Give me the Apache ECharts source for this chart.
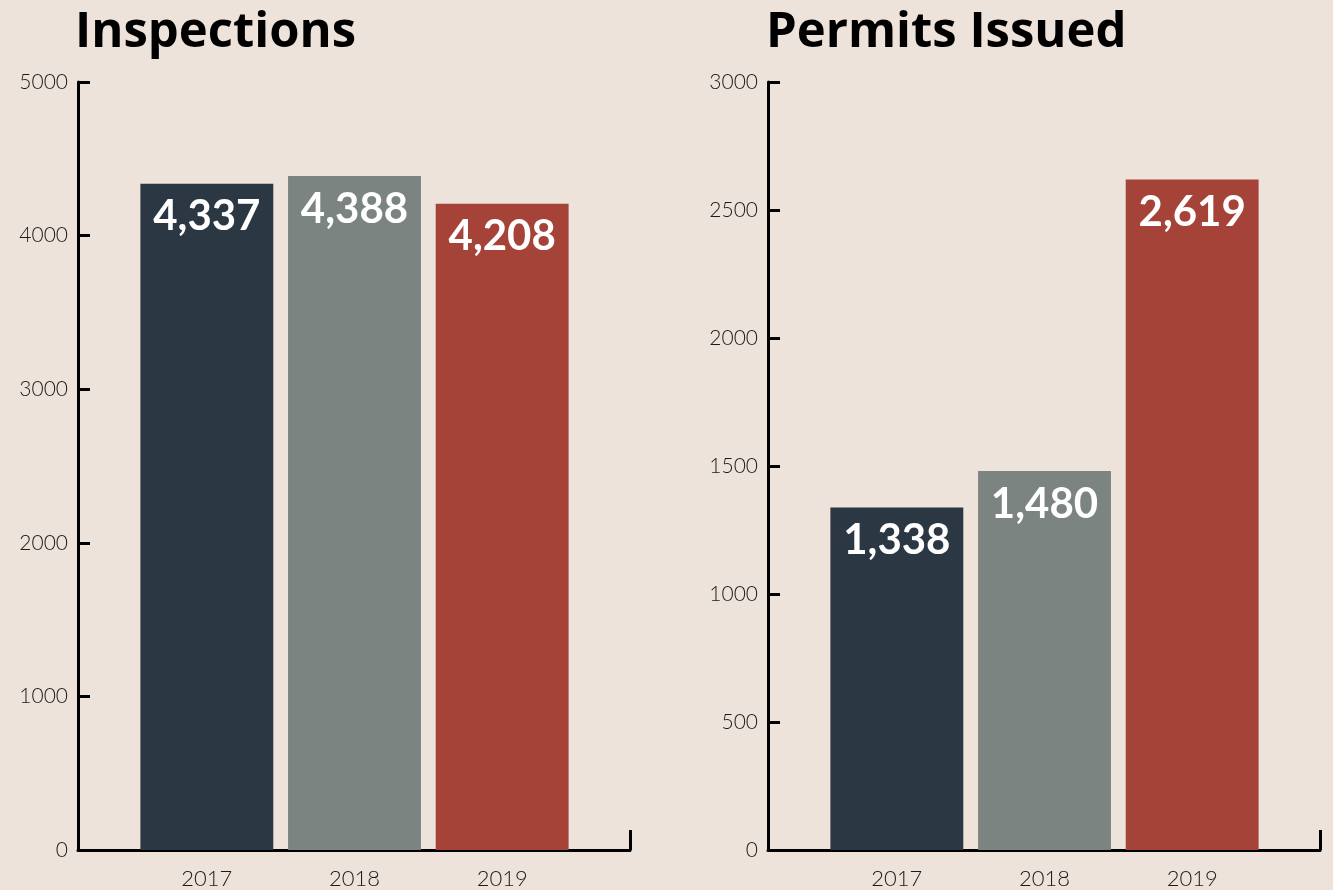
<!DOCTYPE html>
<html>
<head>
<meta charset="utf-8">
<script src="https://cdn.jsdelivr.net/npm/echarts@6/dist/echarts.min.js"></script>
<style>
	html, body { margin: 0; padding: 0; background: #ede3db; }
	#main { width: 1333px; height: 890px; }
</style>
</head>
<body>
<div id="main"></div>
<script>
	// data
	var years = ['2017', '2018', '2019'];
	var inspections = [4337, 4388, 4208];
	var permits = [1338, 1480, 2619];
	var barColors = ['#2c3744', '#7b8480', '#a54338'];

	var chart = echarts.init(document.getElementById('main'));

	var tickFont = { color: '#1a1a1a', fontFamily: 'Lato', fontWeight: 300, fontSize: 21 };

	// frame grid (axis lines) + bar grid (narrower, holds bars)
	function frameX(gridIndex) {
		return {
			type: 'value', gridIndex: gridIndex, min: 0, max: 1, interval: 1,
			axisLine: { show: true, lineStyle: { color: '#000', width: 3 } },
			axisTick: { show: true, inside: true, length: 20, lineStyle: { color: '#000', width: 3 } },
			axisLabel: { show: false },
			splitLine: { show: false }
		};
	}
	function frameY(gridIndex, max, interval) {
		return {
			type: 'value', gridIndex: gridIndex, min: 0, max: max, interval: interval,
			axisLine: { show: true, lineStyle: { color: '#000', width: 3 } },
			axisTick: { show: true, inside: true, length: 12, lineStyle: { color: '#000', width: 3 } },
			axisLabel: Object.assign({ margin: 10, formatter: function (v) { return String(v); } }, tickFont),
			splitLine: { show: false }
		};
	}
	function barX(gridIndex) {
		return {
			type: 'category', gridIndex: gridIndex, data: years,
			axisLine: { show: false },
			axisTick: { show: false },
			axisLabel: { margin: 18, color: '#1a1a1a', fontFamily: 'Lato', fontWeight: 300, fontSize: 22 }
		};
	}
	function barY(gridIndex, max) {
		return {
			type: 'value', gridIndex: gridIndex, min: 0, max: max, show: false,
			splitLine: { show: false }
		};
	}
	function barSeries(idx, values) {
		return {
			type: 'bar',
			xAxisIndex: idx, yAxisIndex: idx,
			barCategoryGap: '10%',
			data: values.map(function (v, i) {
				return { value: v, itemStyle: { color: barColors[i] } };
			}),
			label: {
				show: true,
				position: 'insideTop',
				distance: 12,
				color: '#fff',
				fontFamily: 'Lato',
				fontWeight: 'bold',
				fontSize: 42,
				formatter: function (p) { return p.value.toLocaleString('en-US'); }
			}
		};
	}

	var titleStyle = { fontFamily: 'Open Sans', fontWeight: 'bold', fontSize: 49, color: '#000' };

	var option = {
		backgroundColor: '#ede3db',
		animation: false,
		title: [
			{ text: 'Inspections', left: 70, top: 4, textStyle: titleStyle },
			{ text: 'Permits Issued', left: 761, top: 4, textStyle: titleStyle }
		],
		grid: [
			{ left: 78, width: 552, top: 82, height: 768 },
			{ left: 133, width: 443, top: 82, height: 768 },
			{ left: 768, width: 552, top: 82, height: 768 },
			{ left: 823, width: 443, top: 82, height: 768 }
		],
		xAxis: [frameX(0), barX(1), frameX(2), barX(3)],
		yAxis: [frameY(0, 5000, 1000), barY(1, 5000), frameY(2, 3000, 500), barY(3, 3000)],
		series: [barSeries(1, inspections), barSeries(3, permits)]
	};

	chart.setOption(option);
</script>
</body>
</html>
